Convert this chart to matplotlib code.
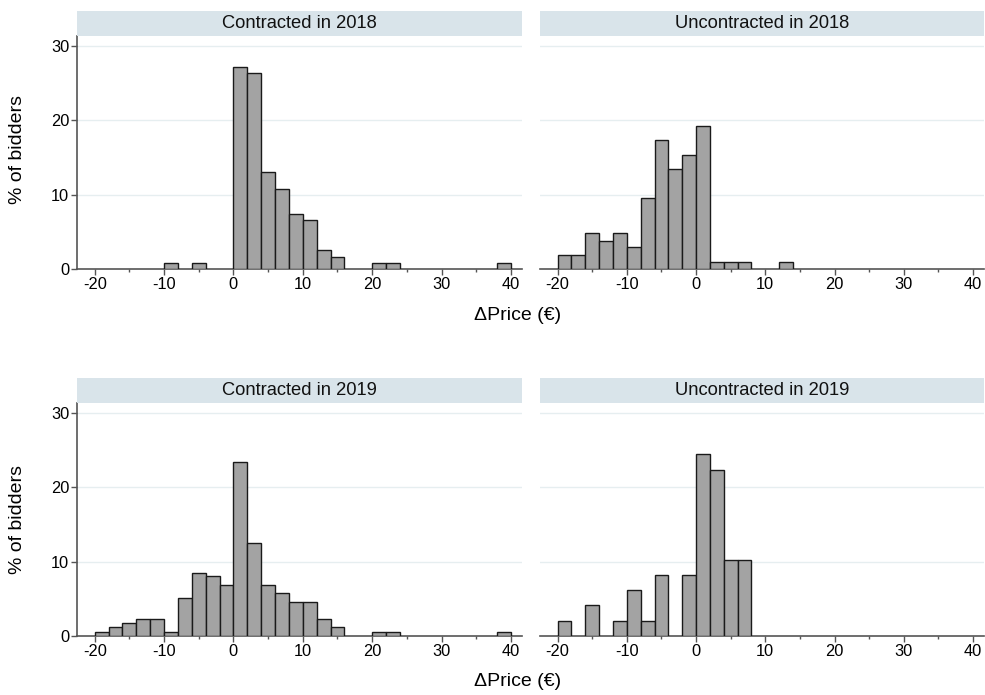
import matplotlib
matplotlib.use("Agg")
import matplotlib.pyplot as plt
from matplotlib.patches import Rectangle

plt.rcParams['font.family'] = ['Liberation Sans', 'DejaVu Sans']

# Histogram data: left edge of each 2-euro bin and % of bidders
c18_bins = [-10, -6, 0, 2, 4, 6, 8, 10, 12, 14, 20, 22, 38]
c18_pct = [0.82, 0.82, 27.2, 26.4, 13.1, 10.7, 7.4, 6.6, 2.5, 1.6, 0.82, 0.82, 0.82]

u18_bins = [-20, -18, -16, -14, -12, -10, -8, -6, -4, -2, 0, 2, 4, 6, 12]
u18_pct = [1.9, 1.9, 4.8, 3.8, 4.8, 2.9, 9.6, 17.4, 13.5, 15.4, 19.3, 0.96, 0.96, 0.96, 0.96]

c19_bins = [-20, -18, -16, -14, -12, -10, -8, -6, -4, -2, 0, 2, 4, 6, 8, 10, 12, 14, 20, 22, 38]
c19_pct = [0.56, 1.12, 1.68, 2.2, 2.2, 0.56, 5.1, 8.5, 8.0, 6.8, 23.4, 12.5, 6.8, 5.7, 4.5, 4.5,
           2.2, 1.12, 0.56, 0.56, 0.56]

u19_bins = [-20, -16, -12, -10, -8, -6, -2, 0, 2, 4, 6]
u19_pct = [2.04, 4.08, 2.04, 6.12, 2.04, 8.16, 8.16, 24.5, 22.4, 10.2, 10.2]

titles = ["Contracted in 2018", "Uncontracted in 2018", "Contracted in 2019", "Uncontracted in 2019"]
panels = [(c18_bins, c18_pct), (u18_bins, u18_pct), (c19_bins, c19_pct), (u19_bins, u19_pct)]
bin_width = 2
x_major = [-20, -10, 0, 10, 20, 30, 40]
x_minor = [-15, -5, 5, 15, 25, 35]
y_ticks = [0, 10, 20, 30]
x_label = "ΔPrice (€)"
y_label = "% of bidders"

W, H = 985, 695
fig = plt.figure(figsize=(W / 100, H / 100), dpi=100)

def fx(px):
    return px / W

def fy(py):
    return 1 - py / H

strip_color = "#d9e4ea"
grid_color = "#e6eef0"
axis_color = "#555555"
tick_fs = 11.8
title_fs = 13.2
label_fs = 14

cols = [(77, 522), (540, 984)]
rows = [(36, 268.7, 11), (403, 635.7, 378)]

for i, (title, (bins, pct)) in enumerate(zip(titles, panels)):
    r, c = divmod(i, 2)
    x0, x1 = cols[c]
    ytop, ybot, stop = rows[r]
    ax = fig.add_axes([fx(x0), fy(ybot), fx(x1 - x0), (ybot - ytop) / H])
    ax.bar(bins, pct, width=bin_width, align='edge', color="#a3a3a3",
           edgecolor="#1a1a1a", linewidth=1.0, zorder=3)
    ax.set_xlim(-22.55, 41.6)
    ax.set_ylim(0, 31.4)
    for yv in [10, 20, 30]:
        ax.axhline(yv, color=grid_color, lw=1.0, zorder=1)
    for s in ['top', 'right']:
        ax.spines[s].set_visible(False)
    ax.spines['bottom'].set_color(axis_color)
    ax.spines['bottom'].set_linewidth(1.2)
    ax.set_xticks(x_major)
    ax.set_xticklabels([str(v) for v in x_major], fontsize=tick_fs)
    ax.set_xticks(x_minor, minor=True)
    ax.tick_params(axis='x', which='major', length=4, width=1, color=axis_color, pad=2)
    ax.tick_params(axis='x', which='minor', length=2.5, width=1, color=axis_color)
    if c == 0:
        ax.spines['left'].set_color(axis_color)
        ax.spines['left'].set_linewidth(1.2)
        ax.set_yticks(y_ticks)
        ax.set_yticklabels([str(v) for v in y_ticks], fontsize=tick_fs)
        ax.tick_params(axis='y', length=4, width=1, color=axis_color, pad=1.5)
    else:
        ax.spines['left'].set_visible(False)
        ax.set_yticks([])
    ax.set_facecolor("white")
    # strip
    fig.patches.append(Rectangle((fx(x0), fy(ytop)), fx(x1 - x0), (ytop - stop) / H,
                                 transform=fig.transFigure, facecolor=strip_color,
                                 edgecolor="none", zorder=0))
    fig.text(fx((x0 + x1) / 2), fy((ytop + stop) / 2), title, ha='center', va='center',
             fontsize=title_fs, color="#111111")

fig.text(fx(518), fy(315), x_label, ha='center', va='center', fontsize=label_fs)
fig.text(fx(518), fy(682), x_label, ha='center', va='center', fontsize=label_fs)
fig.text(fx(17.5), fy(150), y_label, ha='center', va='center', rotation=90, fontsize=label_fs)
fig.text(fx(17.5), fy(519), y_label, ha='center', va='center', rotation=90, fontsize=label_fs)

fig.savefig("out.png", dpi=100)
